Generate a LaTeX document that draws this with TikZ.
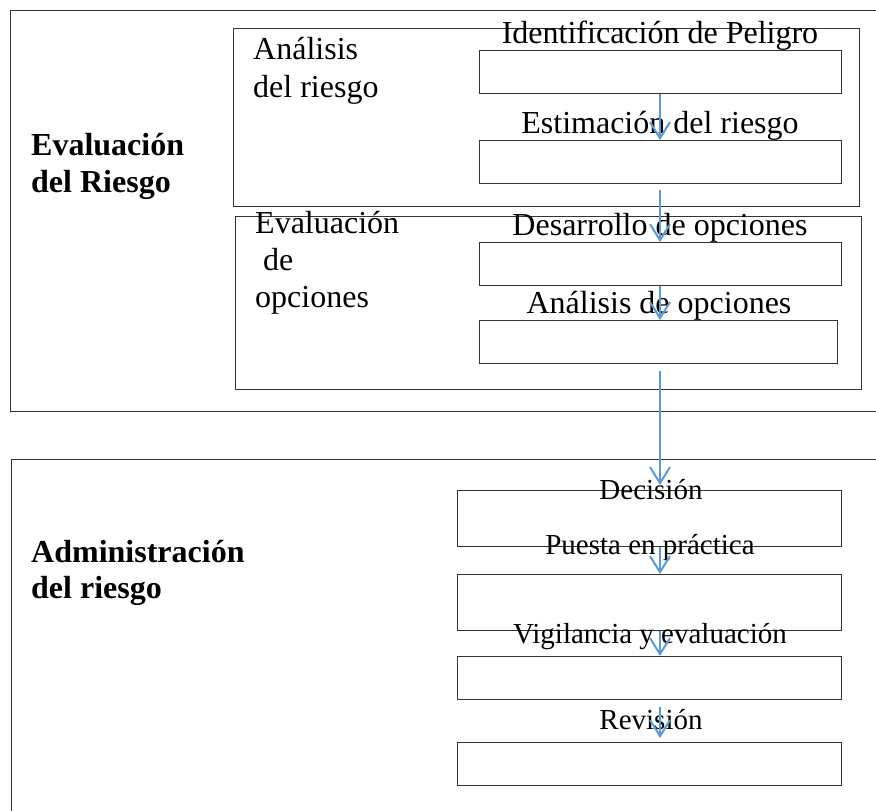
\documentclass[tikz,border=0pt]{standalone}
\usepackage{fontspec}
\setmainfont{Liberation Serif}
\usetikzlibrary{arrows.meta}
\definecolor{flowblue}{HTML}{5B9BD5}

\begin{document}
\begin{tikzpicture}[x=1pt,y=-1pt,
    frame/.style={draw=black!80,line width=1pt},
    stagebox/.style={frame,inner sep=0pt,anchor=north west,minimum width=362pt,minimum height=43pt},
    flow/.style={flowblue,line width=2pt,-{Straight Barb[length=16pt,width=20pt]}},
    big/.style={inner sep=0pt,font=\fontsize{32}{38}\selectfont},
    small/.style={inner sep=0pt,font=\fontsize{29}{34}\selectfont}]
       \useasboundingbox (0,0) rectangle (876,811);
       \clip (0,0) rectangle (876,811);
       % outer frames
       \draw[frame] (10,10) rectangle (890,411);
       \draw[frame] (11,459) rectangle (890,830);
       \draw[frame] (233,28) rectangle (859,206);
       \draw[frame] (235,216) rectangle (861,389);
       % stage boxes
       \node[stagebox] (ident) at (479,50) {};
       \node[stagebox] (estim) at (479,140) {};
       \node[stagebox] (desar) at (479,242) {};
       \node[stagebox,minimum width=358pt] (anal) at (479,320) {};
       \node[stagebox,minimum width=384pt,minimum height=56pt] (decis) at (457,490) {};
       \node[stagebox,minimum width=384pt,minimum height=56pt] (puest) at (457,574) {};
       \node[stagebox,minimum width=384pt] (vigil) at (457,656) {};
       \node[stagebox,minimum width=384pt] (revis) at (457,742) {};
       % labels
       \node[big,anchor=base] (identlbl) at (660,43) {Identificación de Peligro};
       \node[big,anchor=base] (estimlbl) at (660,133) {Estimación del riesgo};
       \node[big,anchor=base] (desarlbl) at (660,235) {Desarrollo de opciones};
       \node[big,anchor=base] (anallbl) at (659,313) {Análisis de opciones};
       \node[small,anchor=base] (decislbl) at (651,499) {Decisión};
       \node[small,anchor=base] (puestlbl) at (650,554) {Puesta en práctica};
       \node[small,anchor=base] (vigillbl) at (650,643) {Vigilancia y evaluación};
       \node[small,anchor=base] (revislbl) at (651,729) {Revisión};
       % multi-line labels sit on their last baseline
       \node[big,anchor=base west,align=left] (analisis) at (253,97)
         {Análisis\\del riesgo};
       \node[big,anchor=base west,align=left,font=\fontsize{32}{37}\selectfont] (evalop) at (255,307)
         {Evaluación\\\hspace*{8pt}de\\opciones};
       \node[big,anchor=base west,align=left,font=\fontsize{32}{37}\selectfont\bfseries]
         (evalriesgo) at (31,192) {Evaluación\\del Riesgo};
       \node[big,anchor=base west,align=left,font=\fontsize{32}{36}\selectfont\bfseries]
         (admin) at (31,598) {Administración\\del riesgo};
       % arrows
       \coordinate (spine) at (660,0);
       \draw[flow] (ident.south -| spine) -- (estim.north -| spine);
       \draw[flow,shorten <=6pt] (estim.south -| spine) -- (desar.north -| spine);
       \draw[flow] (desar.south -| spine) -- (anal.north -| spine);
       \draw[flow,shorten <=7pt,shorten >=5pt] (anal.south -| spine) -- (decis.north -| spine);
       \draw[flow] (decis.south -| spine) -- (puest.north -| spine);
       \draw[flow] (puest.south -| spine) -- (vigil.north -| spine);
       \draw[flow,shorten <=7pt,shorten >=4pt] (vigil.south -| spine) -- (revis.north -| spine);
\end{tikzpicture}
\end{document}
